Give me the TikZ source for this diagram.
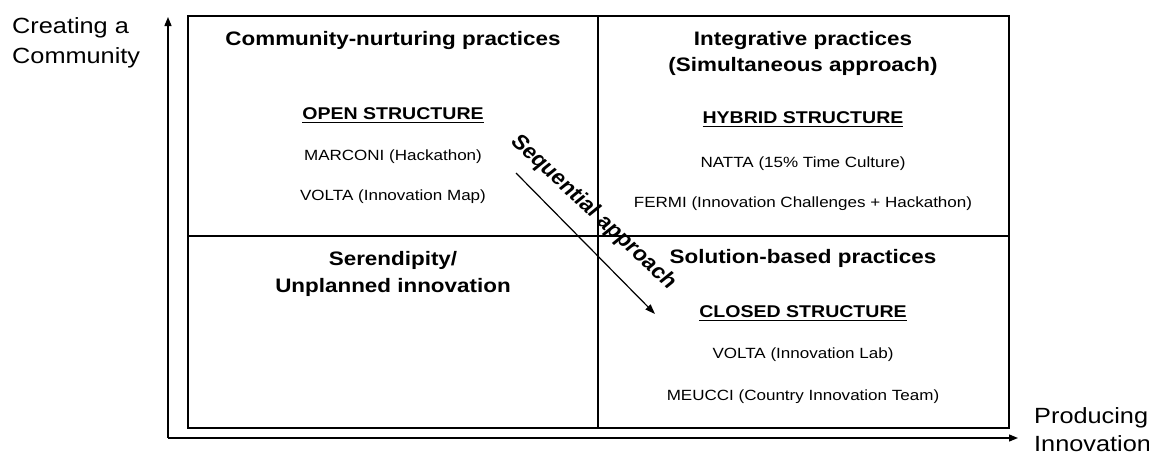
\documentclass[tikz,border=0pt]{standalone}
\usepackage{fontspec}
\setmainfont{Liberation Sans}[FakeStretch=1.15]
\newfontfamily\plainsans{Liberation Sans}
\usetikzlibrary{arrows.meta}
% underlined structure title with a firm rule
\newcommand\ulabel[1]{\setbox0\hbox{#1}\rlap{\rule[-4pt]{\wd0}{1.5pt}}\box0}
\begin{document}
\begin{tikzpicture}[x=1pt,y=-1pt,
  frame/.style={line width=1.6pt, black},
  axis/.style={line width=1.3pt, -{Triangle[length=9pt,width=7pt]}},
  seqarrow/.style={line width=1.2pt, -{Triangle[length=10pt,width=7pt]}},
  head/.style={font=\fontsize{19.5}{23}\selectfont\bfseries, anchor=base, inner sep=0pt},
  struct/.style={font=\fontsize{17}{20}\selectfont\bfseries, anchor=base, inner sep=0pt},
  item/.style={font=\fontsize{14.8}{17}\selectfont, anchor=base, inner sep=0pt},
  axislabel/.style={font=\fontsize{22}{26}\selectfont, anchor=base west, inner sep=0pt},
]
\useasboundingbox (0,0) rectangle (1149,453);

% quadrant frame
\coordinate (tl) at (188,16);
\coordinate (br) at (1009,428);
\coordinate (mt) at (598,16);
\coordinate (mb) at (598,428);
\coordinate (ml) at (188,236);
\coordinate (mr) at (1009,236);
\draw[frame] (tl) rectangle (br);
\draw[frame] (mt) -- (mb);
\draw[frame] (ml) -- (mr);

% axes
\coordinate (O) at (168,438);
\coordinate (ytop) at (168,17);
\coordinate (xend) at (1018,438);
\draw[axis] (O) -- (ytop);
\draw[axis] (O) -- (xend);

% axis labels
\node[axislabel] (ya1) at (12,33) {Creating a};
\node[axislabel] (ya2) at (12,63) {Community};
\node[axislabel] (xa1) at (1034,423) {Producing};
\node[axislabel] (xa2) at (1034,451) {Innovation};

% top left quadrant
\node[head] (tlh) at (393,45) {Community-nurturing practices};
\node[struct] (tls) at (393,119) {\ulabel{OPEN STRUCTURE}};
\node[item] (tl1) at (393,160) {MARCONI (Hackathon)};
\node[item] (tl2) at (393,200) {VOLTA (Innovation Map)};

% top right quadrant
\node[head] (trh1) at (803,45) {Integrative practices};
\node[head] (trh2) at (803,71) {(Simultaneous approach)};
\node[struct] (trs) at (803,123) {\ulabel{HYBRID STRUCTURE}};
\node[item] (tr1) at (803,167) {NATTA (15\% Time Culture)};
\node[item] (tr2) at (803,207) {FERMI (Innovation Challenges + Hackathon)};

% bottom left quadrant
\node[head] (blh1) at (393,265) {Serendipity/};
\node[head] (blh2) at (393,292) {Unplanned innovation};

% bottom right quadrant
\node[head] (brh) at (803,263) {Solution-based practices};
\node[struct] (brs) at (803,317) {\ulabel{CLOSED STRUCTURE}};
\node[item] (br1) at (803,358) {VOLTA (Innovation Lab)};
\node[item] (br2) at (803,400) {MEUCCI (Country Innovation Team)};

% sequential path across the quadrants
\coordinate (s0) at (516,173);
\coordinate (s1) at (655,314);
\draw[seqarrow] (s0) -- (s1);
\begin{scope}[xscale=1.15]
  \node[transform shape, rotate=-47, anchor=base, inner sep=0pt,
        font=\plainsans\fontsize{20.5}{24}\selectfont\bfseries] (seq) at (512,216) {Sequential approach};
\end{scope}
\end{tikzpicture}
\end{document}
